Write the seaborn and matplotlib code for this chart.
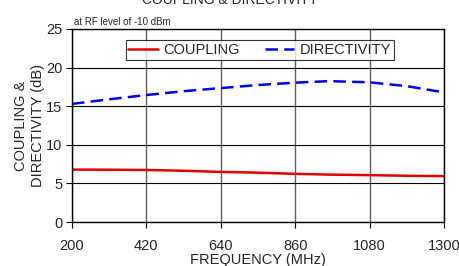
import seaborn as sns
import pandas as pd
import matplotlib.pyplot as plt

# values
freq = [200, 310, 420, 530, 640, 750, 860, 960, 1080, 1190, 1300]
coupling = [6.8, 6.78, 6.75, 6.65, 6.5, 6.4, 6.25, 6.15, 6.08, 6.0, 5.95]
directivity = [15.3, 15.9, 16.45, 16.95, 17.35, 17.75, 18.05, 18.25, 18.1, 17.6, 16.8]

df = pd.DataFrame({'Frequency': freq * 2,
                   'dB': coupling + directivity,
                   'Series': ['COUPLING'] * len(freq) + ['DIRECTIVITY'] * len(freq)})

sns.set_style('white')
plt.rcParams['font.family'] = ['Liberation Sans', 'DejaVu Sans']

fig = plt.figure(figsize=(4.6, 2.66), dpi=100)
ax = fig.add_axes([0.1565, 0.165, 0.8085, 0.726])

sns.lineplot(data=df, x='Frequency', y='dB', hue='Series', style='Series',
             palette={'COUPLING': '#e00000', 'DIRECTIVITY': '#0000ee'},
             dashes={'COUPLING': '', 'DIRECTIVITY': (5, 2.5)},
             linewidth=1.8, ax=ax)

ax.set_xlim(200, 1300)
ax.set_ylim(0, 25)
ax.set_xticks([200, 420, 640, 860, 1080, 1300])
ax.set_yticks([0, 5, 10, 15, 20, 25])
ax.grid(True, axis='y', color='black', linewidth=0.8)
ax.grid(True, axis='x', color='#606060', linewidth=1.0)
for s in ax.spines.values():
    s.set_color('black')
    s.set_linewidth(1.0)
ax.tick_params(axis='both', labelsize=10.5, length=4, direction='out', color='black',
               bottom=True, left=True)
ax.tick_params(axis='x', pad=8)
ax.tick_params(axis='y', pad=3)

ax.set_xlabel('FREQUENCY (MHz)', fontsize=10.5, labelpad=0)
ax.set_ylabel('COUPLING &\nDIRECTIVITY (dB)', fontsize=10.5, labelpad=1, linespacing=1.25)

fig.text(0.5, 1.0, 'COUPLING & DIRECTIVITY', ha='center', va='center', fontsize=10)
ax.text(0.005, 1.01, 'at RF level of -10 dBm', transform=ax.transAxes,
        ha='left', va='bottom', fontsize=7)

leg = ax.legend(loc='upper center', bbox_to_anchor=(0.505, 0.98), ncol=2,
                fontsize=10.5, frameon=True, fancybox=False, edgecolor='black',
                handlelength=2.0, columnspacing=1.7, borderpad=0.2,
                handletextpad=0.4, title=None)
leg.get_frame().set_linewidth(0.8)

plt.savefig('out.png', dpi=100)
